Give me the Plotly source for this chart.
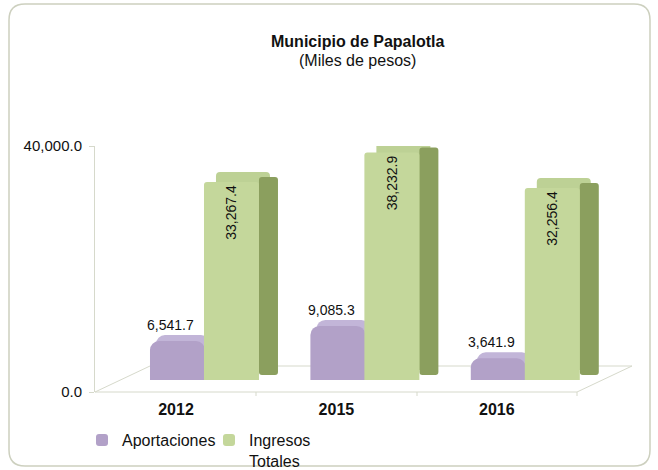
import plotly.graph_objects as go

years = ["2012", "2015", "2016"]
aportaciones = [6541.7, 9085.3, 3641.9]
ingresos = [33267.4, 38232.9, 32256.4]
series_names = ["Aportaciones", "Ingresos<br>Totales"]
y_tick_labels = ["0.0", "40,000.0"]

W, H = 658, 470
L, R, T, B = 95, 53, 146, 78
pw, ph = W - L - R, H - T - B
CAT = pw / 3.179              # pixels per category
u = lambda p: p / CAT         # pixel -> category units
BAR0, BARTOP = 380, 142       # pixel rows where the bars put 0 and 40000
ppu = (BAR0 - BARTOP) / 40000.0
y_range = [-(H - B - BAR0) / ppu, (BAR0 - T) / ppu]
DEPTH = 10 / ppu
PDEPTH = 6 / ppu

def fmt(v):
    return f"{v:,.1f}"

PURPLE, PURPLE_TOP = "#B2A1C8", "#C2B5D8"
GREEN, GREEN_TOP, GREEN_SIDE = "#C4D79B", "#BDD195", "#8B9F5E"

fig = go.Figure()
# 3-D decoration (top and side faces)
fig.add_trace(go.Bar(x=years, y=aportaciones, base=PDEPTH, offset=u(-48), width=u(54),
                     marker=dict(color=PURPLE_TOP, cornerradius=9, line=dict(width=0)),
                     showlegend=False, hoverinfo="skip"))
fig.add_trace(go.Bar(x=years, y=ingresos, base=DEPTH, offset=u(12), width=u(54),
                     marker=dict(color=GREEN_TOP, cornerradius=4, line=dict(width=0)),
                     showlegend=False, hoverinfo="skip"))
fig.add_trace(go.Bar(x=years, y=ingresos, base=DEPTH / 2, offset=u(55), width=u(19),
                     marker=dict(color=GREEN_SIDE, cornerradius=3, line=dict(width=0)),
                     showlegend=False, hoverinfo="skip"))
# front faces
fig.add_trace(go.Bar(x=years, y=aportaciones, name=series_names[0], offset=u(-54), width=u(55),
                     marker=dict(color=PURPLE, cornerradius=9, line=dict(width=0))))
fig.add_trace(go.Bar(x=years, y=ingresos, name=series_names[1], offset=u(0), width=u(55),
                     marker=dict(color=GREEN, cornerradius=3, line=dict(width=0)),
                     text=[fmt(v) for v in ingresos], textposition="inside", textangle=-90,
                     insidetextanchor="end", textfont=dict(size=14, color="#111")))

def px(xp):
    return (xp - L) / pw

def py(yp):
    return (H - B - yp) / ph

x0, x1, y0, y1, r = 9, 650, 4, 466, 16
border = (f"M {px(x0+r)},{py(y0)} L {px(x1-r)},{py(y0)} Q {px(x1)},{py(y0)} {px(x1)},{py(y0+r)} "
          f"L {px(x1)},{py(y1-r)} Q {px(x1)},{py(y1)} {px(x1-r)},{py(y1)} "
          f"L {px(x0+r)},{py(y1)} Q {px(x0)},{py(y1)} {px(x0)},{py(y1-r)} "
          f"L {px(x0)},{py(y0+r)} Q {px(x0)},{py(y0)} {px(x0+r)},{py(y0)} Z")
floor = (f"M {px(95)},{py(392)} L {px(577)},{py(392)} L {px(632)},{py(366)} L {px(150)},{py(366)} Z "
         f"M {px(256)},{py(392)} L {px(256)},{py(396)} M {px(417)},{py(392)} L {px(417)},{py(396)} "
         f"M {px(577)},{py(392)} L {px(577)},{py(396)}")

annotations = [
    dict(text="<b>Municipio de Papalotla</b>", x=px(357), y=py(41), xref="paper", yref="paper",
         showarrow=False, font=dict(size=16, color="#111"), xanchor="center", yanchor="middle"),
    dict(text="(Miles de pesos)", x=px(357), y=py(60), xref="paper", yref="paper",
         showarrow=False, font=dict(size=16, color="#111"), xanchor="center", yanchor="middle"),
]
for i, v in enumerate(aportaciones):
    annotations.append(dict(text=fmt(v), x=i, y=v, xref="x", yref="y", xshift=-33, yshift=16,
                            showarrow=False, font=dict(size=14, color="#111"),
                            xanchor="center", yanchor="middle"))

fig.update_layout(
    width=W, height=H,
    margin=dict(l=L, r=R, t=T, b=B, autoexpand=False),
    paper_bgcolor="white", plot_bgcolor="rgba(0,0,0,0)",
    font=dict(family="Liberation Sans, Arial, sans-serif", size=16, color="#111"),
    barmode="overlay",
    showlegend=True,
    legend=dict(orientation="h", xref="container", yref="container", x=82 / W, y=(H - 423) / H,
                xanchor="left", yanchor="top", font=dict(size=16), traceorder="normal",
                valign="top", itemwidth=30, entrywidth=82, bgcolor="rgba(0,0,0,0)"),
    shapes=[dict(type="path", path=border, xref="paper", yref="paper",
                 line=dict(color="#CDD0BF", width=1.5), layer="below"),
            dict(type="path", path=floor, xref="paper", yref="paper",
                 line=dict(color="#D6D9CB", width=1), layer="below")],
    annotations=annotations,
    yaxis=dict(range=y_range, tickvals=y_range, ticktext=y_tick_labels, automargin=False,
               showgrid=False, zeroline=False, showline=True, linecolor="#D6D9CB",
               ticks="outside", ticklen=5, tickcolor="#D6D9CB", tickfont=dict(size=15),
               ticklabelstandoff=4),
    xaxis=dict(type="category", range=[-(204 - L) / CAT, 2.5], showgrid=False, showline=False,
               ticks="", automargin=False, tickfont=dict(size=16), tickprefix="<b>",
               ticksuffix="</b>", ticklabelshift=-28, ticklabelstandoff=6),
)

fig.write_html("out.html", config={"displayModeBar": False},
               post_script="document.body.style.margin='0';")
